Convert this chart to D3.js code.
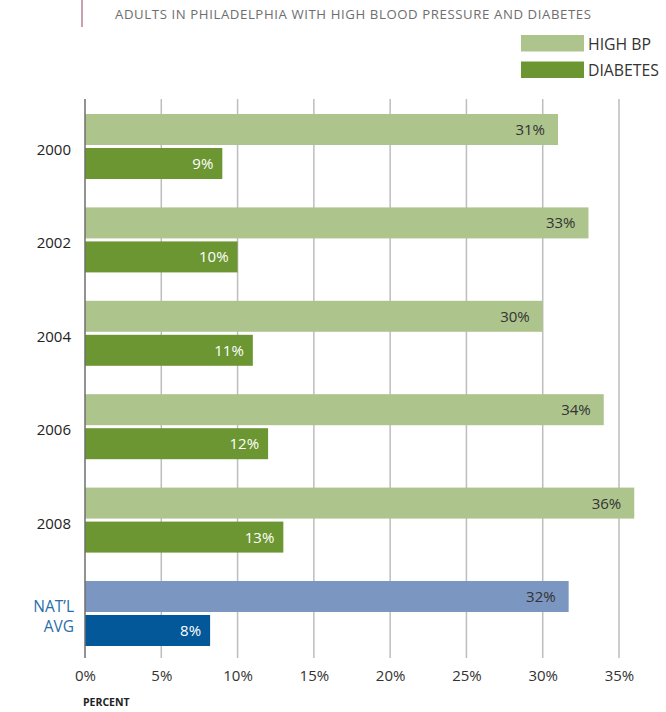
<!DOCTYPE html>
<html><head><meta charset="utf-8">
<script src="https://cdn.jsdelivr.net/npm/d3@7"></script>
<style>body{margin:0;background:#fff}svg{display:block}text{font-family:"Open Sans",Lato,sans-serif}</style>
</head><body>
<script>
const categories = ["2000","2002","2004","2006","2008","NAT'L AVG"];
const highBP = [31, 33, 30, 34, 36, 31.7];
const diabetes = [9, 10, 11, 12, 13, 8.2];
const highBPLabels = ["31%","33%","30%","34%","36%","32%"];
const diabetesLabels = ["9%","10%","11%","12%","13%","8%"];
const ticks = [0,5,10,15,20,25,30,35];
const title = "ADULTS IN PHILADELPHIA WITH HIGH BLOOD PRESSURE AND DIABETES";
const legendItems = ["HIGH BP","DIABETES"];

const W=666,H=712;
const svg=d3.select("body").append("svg").attr("width",W).attr("height",H);
const x=d3.scaleLinear().domain([0,35]).range([85,619]);
const y=d3.scaleBand().domain(categories).range([100,660]).paddingInner(0.304).paddingOuter(0.15);
const bw=y.bandwidth(), gap=3, bh=(bw-gap)/2;
const colLight=(i)=> i===5?"#7b96c0":"#adc48d";
const colDark=(i)=> i===5?"#035899":"#6c9632";

// title
svg.append("line").attr("x1",82).attr("x2",82).attr("y1",0).attr("y2",27).attr("stroke","#c9a0b2").attr("stroke-width",2);
svg.append("text").attr("x",115).attr("y",18.5).attr("font-size",13.2).attr("fill","#6e6e6e")
  .attr("textLength",476).attr("lengthAdjust","spacing").text(title);

// legend
const lg=svg.append("g");
legendItems.forEach((t,i)=>{
  lg.append("rect").attr("x",521).attr("y",35+i*26.5).attr("width",63).attr("height",16.5).attr("fill",i===0?"#adc48d":"#6c9632");
  lg.append("text").attr("x",588).attr("y",49.5+i*26.5).attr("font-size",15.8).attr("fill","#333").text(t);
});

// gridlines
svg.append("g").selectAll("line").data(ticks.filter(d=>d>0)).join("line")
  .attr("x1",d=>x(d)).attr("x2",d=>x(d)).attr("y1",99).attr("y2",658)
  .attr("stroke","#bdbdbd").attr("stroke-width",1.5);

// bars
const g=svg.append("g");
categories.forEach((c,i)=>{
  const y0=y(c);
  g.append("rect").attr("x",x(0)).attr("y",y0).attr("width",x(highBP[i])-x(0)).attr("height",bh).attr("fill",colLight(i));
  g.append("rect").attr("x",x(0)).attr("y",y0+bh+gap).attr("width",x(diabetes[i])-x(0)).attr("height",bh).attr("fill",colDark(i));
  g.append("text").attr("x",x(highBP[i])-13).attr("y",y0+bh/2+5.5).attr("text-anchor","end").attr("font-size",15).attr("fill","#333").text(highBPLabels[i]);
  g.append("text").attr("x",x(diabetes[i])-9).attr("y",y0+bh+gap+bh/2+5.5).attr("text-anchor","end").attr("font-size",15).attr("fill","#fff").text(diabetesLabels[i]);
});

// zero line
svg.append("line").attr("x1",x(0)).attr("x2",x(0)).attr("y1",99).attr("y2",658).attr("stroke","#6e6e6e").attr("stroke-width",1.5);

// y labels
categories.forEach((c,i)=>{
  const cy=y(c)+bw/2;
  if(i<5){
    svg.append("text").attr("x",71).attr("y",cy+8.5).attr("text-anchor","end").attr("font-size",15).attr("fill","#222").text(c);
  } else {
    const t=svg.append("text").attr("x",74).attr("text-anchor","end").attr("font-size",15.5).attr("fill","#2a6ea8");
    t.append("tspan").attr("x",74).attr("y",cy-1).text("NAT\u2019L");
    t.append("tspan").attr("x",74).attr("y",cy+19).text("AVG");
  }
});

// x axis
const ax=svg.append("g").attr("transform","translate(0,660)").call(d3.axisBottom(x).tickValues(ticks).tickFormat(d=>d+"%").tickSize(0).tickPadding(10));
ax.select(".domain").remove();
ax.selectAll("text").attr("font-size",15).attr("fill","#333").attr("font-family","'Open Sans',Lato,sans-serif");
svg.append("text").attr("x",83).attr("y",706).attr("font-size",10.5).attr("font-weight","bold").attr("fill","#222").text("PERCENT");
</script>
</body></html>
